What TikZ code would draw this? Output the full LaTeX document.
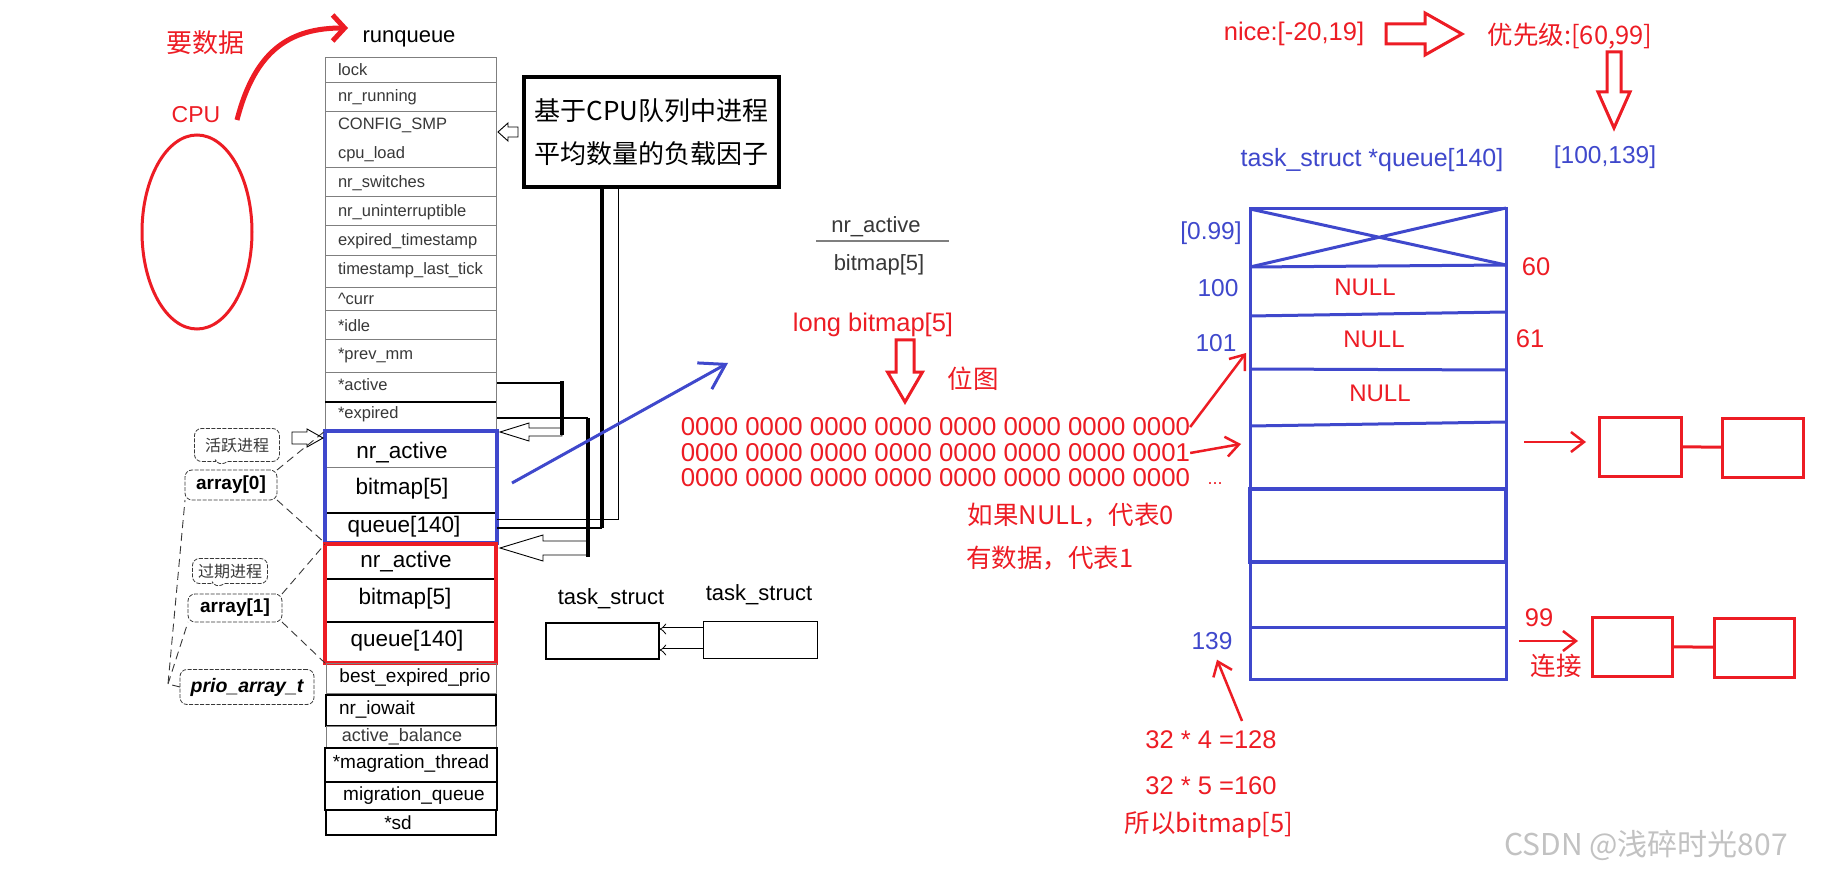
\documentclass[tikz,border=0pt]{standalone}
\usepackage{fontspec}
\setmainfont{Liberation Sans}
\newfontfamily\cjk{Noto Sans CJK SC}
\usetikzlibrary{arrows.meta, shapes.callouts}
\definecolor{pred}{HTML}{ED1C24}
\definecolor{pblue}{HTML}{3F48CC}
\definecolor{rowline}{HTML}{7F7F7F}
\definecolor{fldtext}{HTML}{383838}
\definecolor{wmark}{HTML}{C2C2C2}
\newcommand{\fsz}[1]{\fontsize{#1}{#1}\selectfont}
% outlined block arrow: style, tip, angle, length, head length, head half, shaft half
\newcommand{\blockarrow}[7]{%
  \draw[#1, shift={#2}, rotate=#3] (0,0) -- (-#5,#6) -- (-#5,#7) -- (-#4,#7)
    -- (-#4,-#7) -- (-#5,-#7) -- (-#5,-#6) -- cycle;}

\begin{document}
\begin{tikzpicture}[x=1pt, y=-1pt,
    every node/.style={inner sep=0pt, outer sep=0pt},
    fld/.style={anchor=west, text=fldtext, font=\fsz{16.5}},
    fieldtxt/.style={font=\fsz{22.5}},
    lowtxt/.style={font=\fsz{19}},
    note/.style={text=pred, font=\fsz{25.5}},
    cnote/.style={text=pred, font={\cjk\fsz{25.5}}},
    idx/.style={text=pblue, font=\fsz{24.5}},
    bits/.style={text=pred, font=\fsz{25.8}},
    tbl/.style={draw=pblue, line width=3pt},
    lnk/.style={draw=pred, line width=3pt},
    lbox/.style={draw=pred, line width=3pt, minimum width=81pt, minimum height=59pt},
    rarr/.style={pred, line width=2.5pt, -{Straight Barb[length=13pt,width=20pt]}},
    rowrule/.style={draw=rowline, line width=1pt},
    bubble/.style={draw=fldtext, line width=0.8pt, dash pattern=on 4pt off 1.5pt,
                   rounded corners=7pt},
    callbox/.style={bubble, rectangle callout, callout pointer width=12pt,
                    font={\cjk\fsz{16}}, text=fldtext},
    guide/.style={draw=fldtext, line width=0.9pt, dash pattern=on 8pt off 5pt},
]
\fill[white] (0,0) rectangle (1821,877);
\useasboundingbox (0,0) rectangle (1821,877);

% ================================================================ cpu
\node[cnote, font={\cjk\fsz{26}}] (want) at (205,43) {要数据};
\node[note, font=\fsz{23}] (cpu) at (196,115) {CPU};
\draw[pred, line width=3pt] (197,232) ellipse [x radius=55pt, y radius=97pt];
\coordinate (cpuout) at (237,120);
\coordinate (rqin) at (348,28);
\draw[pred, line width=5pt, -{Straight Barb[length=12pt,width=26pt]}]
    (cpuout) .. controls (255,50) and (290,28) .. (rqin);

% ================================================================ runqueue
\node[font=\fsz{22}] (rq) at (409,39) {runqueue};
\draw[rowrule] (325,58) rectangle (496,431);
\foreach \y in {83,112,168,197,226,256,288,311,340,372}
  \draw[rowrule] (325,\y) -- (496,\y);
\draw[line width=2pt] (325,402) -- (496,402);
\foreach \y/\t [count=\i] in {70/lock, 97/nr\_running, 125/CONFIG\_SMP, 154/cpu\_load,
    183/nr\_switches, 212/nr\_uninterruptible, 241/expired\_timestamp,
    270/timestamp\_last\_tick, 299/\textasciicircum curr, 326/*idle, 356/*prev\_mm,
    385/*active, 414/*expired}
  \node[fld] (f\i) at (338,\y) {\t};

% the active array
\node[draw=pblue, line width=3.5pt, minimum width=172pt, minimum height=112pt] (act) at (411,487) {};
\draw[rowrule] (327,467) -- (495,467);
\draw[line width=2.5pt] (327,513) -- (495,513);
\node[fieldtxt] (actn) at (402,453) {nr\_active};
\node[fieldtxt] (actb) at (402,489) {bitmap[5]};
\node[fieldtxt] (actq) at (404,527) {queue[140]};

% the expired array
\node[draw=pred, line width=3.5pt, minimum width=171pt, minimum height=119pt] (exp) at (410.5,603.5) {};
\draw[line width=1.2pt] (327,579) -- (494,579);
\draw[line width=1.2pt] (327,622) -- (494,622);
\node[fieldtxt] (expn) at (406,562) {nr\_active};
\node[fieldtxt] (expb) at (405,599) {bitmap[5]};
\node[fieldtxt] (expq) at (407,641) {queue[140]};

% the rest of the struct
\draw[rowrule] (326,663) rectangle (496,693);
\draw[line width=1.8pt] (326,695) rectangle (496,726);
\draw[rowrule] (326,726) rectangle (496,748);
\draw[line width=1.8pt] (325,748) rectangle (497,782);
\draw[line width=1.2pt] (325,782) rectangle (497,810);
\draw[line width=1.2pt] (326,810) rectangle (496,835);
\node[lowtxt] (g1) at (415,678) {best\_expired\_prio};
\node[lowtxt, anchor=west] (g2) at (339,709) {nr\_iowait};
\node[lowtxt, font=\fsz{18}, text=fldtext] (g3) at (402,737) {active\_balance};
\node[lowtxt] (g4) at (411,764) {*magration\_thread};
\node[lowtxt] (g5) at (414,796) {migration\_queue};
\node[lowtxt] (g6) at (398,823) {*sd};

% ================================================================ prio_array_t notes
\node[callbox, callout absolute pointer={(218,466)}, minimum width=85pt, minimum height=33pt] (tag0) at (237,445) {活跃进程};
\node[bubble, font=\bfseries\fsz{19}, minimum width=92pt, minimum height=30pt] (arr0) at (231,485) {array[0]};
\node[callbox, callout absolute pointer={(215,588)}, minimum width=75pt, minimum height=25pt] (tag1) at (230,571) {过期进程};
\node[bubble, font=\bfseries\fsz{19}, minimum width=94pt, minimum height=28pt] (arr1) at (235,608) {array[1]};
\node[bubble, font=\bfseries\itshape\fsz{19.5}, minimum width=134pt, minimum height=35pt] (pat) at (247,687) {prio\_array\_t};
\draw[guide] (arr0.north east) -- (act.north west);
\draw[guide] (arr0.south east) -- (act.south west);
\draw[guide] (arr1.north east) -- (exp.north west);
\draw[guide] (arr1.south east) -- (exp.south west);
\coordinate (pj) at (168,684);
\draw[guide] (pat.west) -- (pj) -- (arr0.south west);
\draw[guide] (pj) -- (arr1.south west);
\blockarrow{line width=0.9pt}{(323,438)}{0}{31}{16}{9}{6}

% ================================================================ *active / *expired
\coordinate (ja) at (562,383);
\coordinate (je) at (588,418);
\draw[line width=1.2pt] (act.east |- ja) -- (ja);
\draw[line width=1.2pt] (act.east |- je) -- (je);
\draw[line width=4pt] (562,381) -- (562,435);
\draw[line width=4pt] (588,418) -- (588,557);
\blockarrow{line width=0.9pt}{(500,432)}{180}{62}{29}{9}{4}
\blockarrow{line width=0.9pt}{(500,548)}{180}{88}{43}{13}{7}

% ================================================================ cpu_load note
\node[draw, line width=3.5pt, minimum width=255pt, minimum height=110pt, align=center,
      font={\cjk\fontsize{26}{43}\selectfont}] (load) at (651.5,132)
      {基于CPU队列中进程\\平均数量的负载因子};
\blockarrow{line width=0.9pt}{(498,132)}{180}{20}{10}{9}{5}
\coordinate (ka) at (602,528);
\coordinate (kb) at (618,519);
\draw[line width=4pt] (load.south -| ka) -- (ka);
\draw[line width=1.5pt] (ka) -- (act.east |- ka);
\draw[line width=1pt] (load.south -| kb) -- (kb) -- (act.east |- kb);

% ================================================================ task_struct pair
\node[font=\fsz{22}] (ts1) at (611,599) {task\_struct};
\node[font=\fsz{22}] (ts2) at (759,595) {task\_struct};
\node[draw, line width=2pt, minimum width=113pt, minimum height=36pt] (tb1) at (602.5,641) {};
\node[draw, line width=1pt, minimum width=114pt, minimum height=37pt] (tb2) at (760,639.5) {};
\coordinate (d1) at (0,629);
\coordinate (d2) at (0,650);
\draw[double, double distance=3pt, line width=0.8pt, {Implies}-] (tb1.east |- d1) -- (tb2.west |- d1);
\draw[double, double distance=3pt, line width=0.8pt, {Implies}-] (tb1.east |- d2) -- (tb2.west |- d2);

% ================================================================ bitmap
\coordinate (bs) at (512,483);
\coordinate (be) at (728,363);
\draw[pblue, line width=3pt, -{Straight Barb[length=24pt,width=30pt]}] (bs) -- (be);
\node[font=\fsz{22}, text=fldtext] (na) at (876,227) {nr\_active};
\draw[rowrule, line width=1.3pt] (816,241) -- (949,241);
\node[font=\fsz{22}, text=fldtext] (nb) at (879,265) {bitmap[5]};
\node[note] (lb) at (873,325) {long bitmap[5]};
\blockarrow{pred, line width=3pt}{(905,402)}{-90}{62}{30}{17.5}{9}
\node[cnote] (wt) at (973,379) {位图};
\foreach \y/\t [count=\i] in {427/0000 0000 0000 0000 0000 0000 0000 0000,
    453/0000 0000 0000 0000 0000 0000 0000 0001,
    478/0000 0000 0000 0000 0000 0000 0000 0000}
  \node[bits] (b\i) at (935.5,\y) {\t};
\node[cnote] (n0) at (1071,515) {如果NULL，代表0};
\node[cnote, anchor=west] (n1) at (966,558) {有数据，代表1};
\node[note, font=\fsz{18}] (dots) at (1215,484) {...};

% ================================================================ priority ranges
\node[note] (nice) at (1294,34) {nice:[-20,19]};
\blockarrow{pred, line width=3pt}{(1462,34)}{0}{76}{37}{21}{10}
\node[cnote] (prio) at (1570,36) {优先级:[60,99]};
\blockarrow{pred, line width=3pt}{(1614,128)}{-90}{76}{36}{16}{7}
\node[idx] (rt) at (1605,157) {[100,139]};
\node[idx, font=\fsz{25}] (qt) at (1372,160) {task\_struct *queue[140]};

% ================================================================ queue[140]
\draw[tbl] (1250,209) rectangle (1506,679);
\draw[tbl] (1250,209) -- (1506,265) (1250,267) -- (1506,208);
\foreach \ya/\yb in {267/265, 316/312, 369/370, 426/422, 627/627}
  \draw[tbl] (1250,\ya) -- (1506,\yb);
\draw[tbl, line width=4pt] (1250,489) rectangle (1506,562);
\node[idx] (i0) at (1211,233) {[0.99]};
\node[idx] (i100) at (1218,288) {100};
\node[idx] (i101) at (1216,343) {101};
\node[idx] (i139) at (1212,641) {139};
\node[note] (p60) at (1536,267) {60};
\node[note] (p61) at (1530,339) {61};
\node[note] (p99) at (1539,618) {99};
\node[cnote] (lk) at (1556,666) {连接};
\node[note, font=\fsz{24}] (u0) at (1365,287) {NULL};
\node[note, font=\fsz{24}] (u1) at (1374,339) {NULL};
\node[note, font=\fsz{24}] (u2) at (1380,393) {NULL};

% the run lists
\node[lbox, minimum width=82pt] (r1) at (1640,446.5) {};
\node[lbox] (r2) at (1762.5,447.5) {};
\node[lbox, minimum width=80pt] (r3) at (1632,646.5) {};
\node[lbox, minimum width=80pt] (r4) at (1754,647.5) {};
\draw[lnk] (r1) -- (r2);
\draw[lnk] (r3) -- (r4);

% bits to slots
\coordinate (in1) at (1246,353);
\coordinate (in2) at (1241,444);
\coordinate (out1) at (1524,442);
\coordinate (out2) at (1519,641);
\draw[rarr] (b1.east) -- (in1);
\draw[rarr] (b2.east) -- (in2);
\draw[rarr, shorten >=13pt] (out1) -- (out1 -| r1.west);
\draw[rarr, shorten >=14pt] (out2) -- (out2 -| r3.west);

% ================================================================ why five longs
\node[note] (m1) at (1211,740) {32 * 4 =128};
\node[note] (m2) at (1211,786) {32 * 5 =160};
\node[cnote] (m3) at (1209,825) {所以bitmap[5]};
\draw[rarr] ([xshift=31pt,yshift=10pt]m1.north) -- ([xshift=5pt,yshift=-10pt]i139.south);

\node[font={\cjk\fsz{30}}, text=wmark] (wm) at (1646,845) {CSDN @浅碎时光807};
\end{tikzpicture}
\end{document}
